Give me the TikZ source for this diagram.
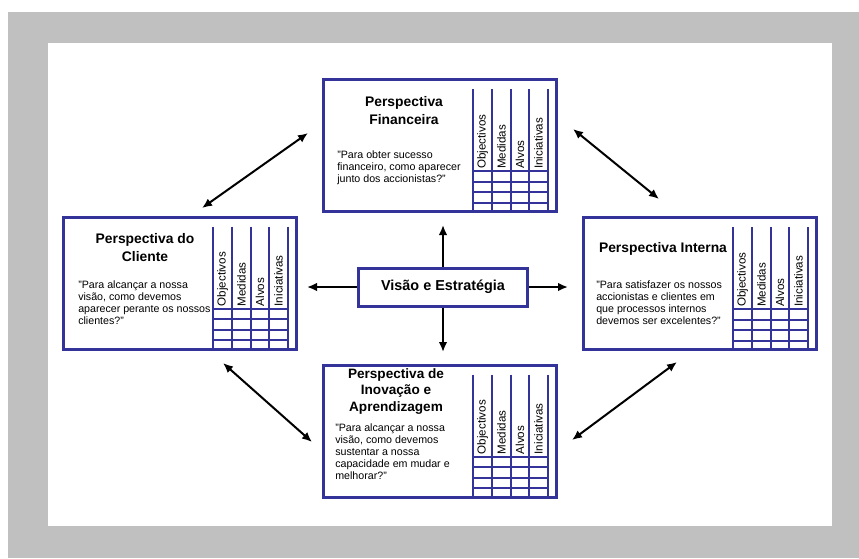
\documentclass[tikz,border=0pt]{standalone}
\usepackage{fontspec}
\setmainfont{Liberation Sans}
\usetikzlibrary{arrows.meta}
\definecolor{bblue}{RGB}{51,51,153}
\definecolor{bgray}{RGB}{192,192,192}
\tikzset{bsc/.style={x=0.75pt,y=-0.75pt},
  persp/.style={draw=bblue,line width=2.25pt,minimum width=174.75pt,minimum height=99pt,inner sep=0pt},
  ptitle/.style={anchor=north,inner sep=0pt,align=center,font=\bfseries\fontsize{10.4}{13.8}\selectfont},
  pquote/.style={anchor=north west,inner sep=0pt,align=left,font=\fontsize{8}{9}\selectfont},
  pcol/.style={rotate=90,anchor=west,inner sep=0pt,font=\fontsize{8.7}{9}\selectfont},
  tline/.style={draw=bblue,line width=1.5pt},
  arr/.style={-{Latex[length=7.5pt,width=6.5pt]},line width=1.5pt},
  dbl/.style={{Latex[length=7.5pt,width=6.5pt]}-{Latex[length=7.5pt,width=6.5pt]},line width=1.5pt}}

\begin{document}
\begin{tikzpicture}[bsc]
    \useasboundingbox (0,0) rectangle (859,558);
    \fill[bgray] (8,12) rectangle (859,558);
    \fill[white] (48,43) rectangle (832,526);
    % boxes
    \node[persp] (fin) at (440,145.5) {};
    \node[persp] (cli) at (180,283) {};
    \node[persp] (int) at (700,283.5) {};
    \node[persp] (ino) at (440,431) {};
    \node[draw=bblue,line width=2.25pt,minimum width=126.75pt,minimum height=28.5pt,
      font=\bfseries\fontsize{10.8}{13}\selectfont] (vis) at (443,287) {Visão e Estratégia};
    % tables
    \foreach \b in {fin,cli,int,ino} {
      \begin{scope}[shift={(\b.north west)}]
        \foreach \x in {151,170,188.5,207,225.5} \draw[tline] (\x,11) -- (\x,134);
        \foreach \y in {93,103.5,114,124.5} \draw[tline] (151,\y) -- (225.5,\y);
        \foreach \x/\t in {160.5/Objectivos,179.5/Medidas,198/Alvos,216.5/Iniciativas}
          \node[pcol] (\b-\t) at (\x,91) {\t};
      \end{scope}
    }
    \node[ptitle] (fin-h) at (404,96) {Perspectiva\\Financeira};
    \node[pquote] (fin-q) at (337,150) {"Para obter sucesso\\financeiro, como aparecer\\junto dos accionistas?"};
    \node[ptitle] (cli-h) at (145,233) {Perspectiva do\\Cliente};
    \node[pquote] (cli-q) at (78,280) {"Para alcançar a nossa\\visão, como devemos\\aparecer perante os nossos\\clientes?"};
    \node[ptitle] (int-h) at (663,242) {Perspectiva Interna};
    \node[pquote] (int-q) at (596,280) {"Para satisfazer os nossos\\accionistas e clientes em\\que processos internos\\devemos ser excelentes?"};
    \node[ptitle,font=\bfseries\fontsize{10.2}{12.4}\selectfont] (ino-h) at (396,368) {Perspectiva de\\Inovação e\\Aprendizagem};
    \node[pquote] (ino-q) at (335,423) {"Para alcançar a nossa\\visão, como devemos\\sustentar a nossa\\capacidade em mudar e\\melhorar?"};
    % arrows
    \coordinate (vup) at (443,225);
    \coordinate (vdn) at (443,352);
    \coordinate (vlt) at (307,287);
    \coordinate (vrt) at (568,287);
    \draw[arr] (vis.north) -- (vup);
    \draw[arr] (vis.south) -- (vdn);
    \draw[arr] (vis.west) -- (vlt);
    \draw[arr] (vis.east) -- (vrt);
    \coordinate (cf1) at (202,208); \coordinate (cf2) at (308,133);
    \coordinate (fi1) at (573,129); \coordinate (fi2) at (659,199);
    \coordinate (cn1) at (223,363); \coordinate (cn2) at (312,442);
    \coordinate (in1) at (677,362); \coordinate (in2) at (572,440);
    \draw[dbl] (cf1) -- (cf2);
    \draw[dbl] (fi1) -- (fi2);
    \draw[dbl] (cn1) -- (cn2);
    \draw[dbl] (in1) -- (in2);
\end{tikzpicture}
\end{document}
